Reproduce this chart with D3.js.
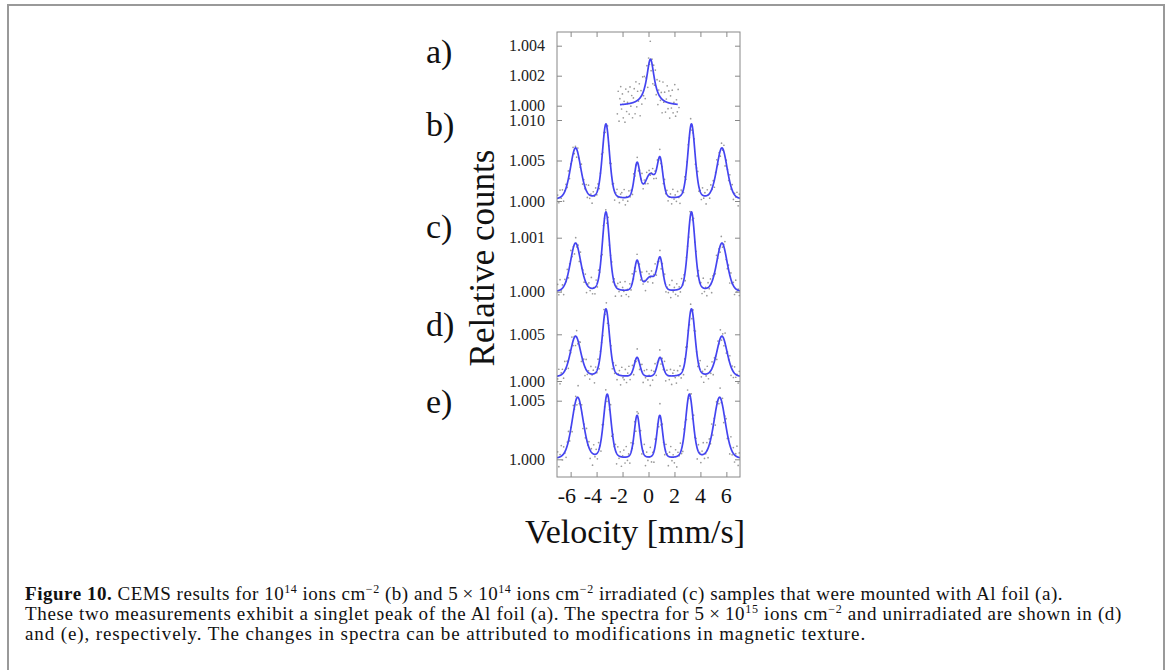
<!DOCTYPE html>
<html>
<head>
<meta charset="utf-8">
<script src="https://cdn.jsdelivr.net/npm/d3@7"></script>
<style>
body { margin: 0; background: #fff; }
svg { display: block; }
</style>
</head>
<body>
<svg id="chart" width="1170" height="670"></svg>
<script>
// ---- data ----
const xTicks = [-6, -4, -2, 0, 2, 4, 6];
const ticksA = [1.000, 1.002, 1.004];
const ticksB = [1.000, 1.005, 1.010];
const ticksC = [1.000, 1.001];
const ticksD = [1.000, 1.005];
const ticksE = [1.000, 1.005];

// pseudo-Voigt fit parameters (line position mm/s, hwhm mm/s, amplitude in relative counts)
const sextetPos  = [-5.62, -3.28, -0.88, 0.89, 3.31, 5.66];
const sextetPosE = [-5.46, -3.18, -0.88, 0.87, 3.15, 5.48];
const hwhm  = [0.48, 0.33, 0.26, 0.26, 0.33, 0.48];
const hwhmE = [0.52, 0.34, 0.26, 0.26, 0.34, 0.52];
const singletPos = 0.15;

const baseA = 1.00000, ampA = [0.0031], hwhmA = [0.36], etaA = 1.0;
const baseB = 1.00008, ampB = [0.0064, 0.0093, 0.0043, 0.0045, 0.0093, 0.0064], singletB = 0.0030;
const baseC = 0.99998, ampC = [0.00091, 0.00148, 0.00056, 0.00058, 0.00148, 0.00091], singletC = 0.00026;
const baseD = 1.00035, ampD = [0.0044, 0.0073, 0.0021, 0.0021, 0.0073, 0.0044];
const baseE = 0.99995, ampE = [0.0053, 0.0055, 0.0037, 0.0037, 0.0055, 0.0053];
const singletW = 0.5, eta = 0.3;

// scatter of measured points: residuals from the fit (a,b,d,e in 1e-4, c in 1e-5)
const resA = [-6,9,-11,4,12,-3,7,-9,2,-12,10,-5,1,8,-7,11,-2,5,-10,3,9,-8,13,-4,6,-1,10,-12,4,-6,11,-3,8,-9,2,7,-11,5,-2,12,-7,3,-10,6,-4,9,-5,7,-8,3,10,-2,4,-9,12,-1,6,-7,2,11,-4,8,-10,5,-3,9,-6,1,13,-8,3,-5,10,-2];
const resB = [4,-6,9,-2,7,-9,1,5,-4,10,-7,3,-1,8,-5,2,-10,6,0,-3,9,-8,4,-2,7,-6,11,-4,2,-9,5,-1,8,-3,6,-7,1,10,-5,3,-8,0,7,-2,-6,9,-4,5,-10,2,8,-1,-7,4,6,-3,10,-9,1,-5,7,-2,3,-8,9,-4,0,6,-7,2,-1,11,-6,4,-3,8,-9,5,-2,1,7,-5,3,-10,6,-1,9,-4,2,-7,8,-3,5,-6,0,4,-8,10,-2,3,-5,7,-1,-9,6,2,-4,8,-6,1,5,-3,9,-7,
    -2,6,-8,3,11,-5,1,-7,9,-3,4,-10,7,0,-6,8,-1,5,-9,2,10,-4,3,-7,6,-2,8,-11,4,1,-5,9,-3,7,-8,2,-1,6,-10,5];
const resC = [12,-8,19,-3,6,-15,9,-1,14,-11,4,17,-6,2,-18,10,-4,7,-13,16,-2,5,-9,13,-16,3,8,-5,20,-10,1,-12,11,-7,15,-3,6,-17,9,-1,4,-14,18,-6,2,12,-9,7,-19,3,10,-4,14,-11,5,-2,16,-8,1,-13,9,-6,17,-3,4,-15,11,-1,8,-10,13,-5,2,-18,15,-7,6,-2,10,-12,3,19,-9,5,-4,12,-16,7,-1,14,-11,2,-6,9,-14,18,-3,5,-8,11,-12,4,-7,15,-2,8,-17,6,1,-10,13,-5,
    -9,14,-3,7,-16,10,-1,5,-12,18,-6,2,-14,9,-4,11,-19,6,1,-8,15,-2,4,-11,13,-7,3,17,-5,-10,8,-15,12,-1,6,-13,16,-4,2,-9];
const resD = [-3,7,-9,2,5,-6,10,-1,4,-8,6,-2,9,-5,1,-10,7,-4,3,8,-7,0,5,-9,11,-3,2,-6,8,-1,4,-10,6,-2,9,-7,3,1,-5,10,-4,7,-8,2,-1,6,-9,4,-3,8,-6,1,5,-10,9,-2,-4,7,-7,3,10,-5,0,6,-8,2,-3,9,-1,-6,4,8,-9,5,-2,7,-4,1,-10,6,-5,3,9,-7,2,-1,8,-6,4,-3,10,-8,5,0,-4,7,-9,3,6,-2,-8,5,-1,9,-5,2,-7,4,8,-3,1,-6,7,-10,
    6,-4,9,-1,-7,3,10,-5,2,-9,5,-2,8,-6,0,-3,7,-10,4,1,-8,6,-2,9,-4,3,-7,11,-5,2,-1,8,-9,4,-6,7,-3,1,-8,5];
const resE = [5,-8,2,9,-4,6,-1,-7,3,8,-5,1,-9,7,-2,4,-6,10,-3,0,6,-8,2,-4,9,-1,5,-7,3,-10,8,-2,4,-5,7,1,-9,6,-3,2,8,-6,0,-4,10,-7,3,-1,5,-9,7,-2,4,-8,1,6,-5,9,-3,2,-7,8,-1,-4,6,-10,3,5,-2,7,-6,1,9,-8,4,-3,0,8,-5,2,-9,6,-1,3,-7,10,-4,5,-2,-6,7,1,-8,4,9,-3,2,-5,6,-9,3,-1,8,-4,-7,5,2,-6,10,-3,1,7,
    -5,8,-2,4,-9,6,1,-7,3,10,-4,-1,7,-8,5,-3,9,-6,2,-10,4,0,-5,8,-2,6,-9,3,7,-4,1,-8,10,-3,5,-6,2,9,-7,4];

const captionLines = [
    [["Figure 10.", "b"], [" CEMS results for 10"], ["14", "s"], [" ions cm"], ["\u22122", "s"], [" (b) and 5\u2009\u00d7\u200910"], ["14", "s"], [" ions cm"], ["\u22122", "s"], [" irradiated (c) samples that were mounted with Al foil (a)."]],
    [["These two measurements exhibit a singlet peak of the Al foil (a). The spectra for 5\u2009\u00d7\u200910"], ["15", "s"], [" ions cm"], ["\u22122", "s"], [" and unirradiated are shown in (d)"]],
    [["and (e), respectively. The changes in spectra can be attributed to modifications in magnetic texture."]]
];
const captionWidths = [1038, 1097, 841];

// ---- layout ----
const frame = {left: 557, right: 740, top: 32, bottom: 477};
const serif = "'Liberation Serif', 'Times New Roman', serif";

const panels = [
    {label: "a)", labelY: 63,  ticks: ticksA, yPx: [105.7, 45.7], base: baseA, eta: etaA, pos: [singletPos], amp: ampA, w: hwhmA, res: resA, unit: 1e-4, curveX: [-2.2, 2.25], dotX: [-2.4, 2.35]},
    {label: "b)", labelY: 136, ticks: ticksB, yPx: [201, 120],    base: baseB, eta: eta, pos: sextetPos.concat([singletPos]), amp: ampB.concat([singletB]), w: hwhm.concat([singletW]), res: resB, unit: 1e-4, curveX: [-7.05, 7.05], dotX: [-7.0, 7.0]},
    {label: "c)", labelY: 238, ticks: ticksC, yPx: [291.7, 237.7], base: baseC, eta: eta, pos: sextetPos.concat([singletPos]), amp: ampC.concat([singletC]), w: hwhm.concat([singletW]), res: resC, unit: 1e-5, curveX: [-7.05, 7.05], dotX: [-7.0, 7.0]},
    {label: "d)", labelY: 336, ticks: ticksD, yPx: [381, 334.3],  base: baseD, eta: eta, pos: sextetPos, amp: ampD, w: hwhm, res: resD, unit: 1e-4, curveX: [-7.05, 7.05], dotX: [-7.0, 7.0]},
    {label: "e)", labelY: 413, ticks: ticksE, yPx: [459.3, 400.7], base: baseE, eta: eta, pos: sextetPosE, amp: ampE, w: hwhmE, res: resE, unit: 1e-4, curveX: [-7.05, 7.05], dotX: [-7.0, 7.0]}
];

const svg = d3.select("#chart");

// page border (top, left, right)
svg.append("path")
    .attr("d", "M8,670 V5 H1164 V670")
    .attr("fill", "none")
    .attr("stroke", "#999")
    .attr("stroke-width", 2);

const x = d3.scaleLinear().domain([-7.05, 7.05]).range([frame.left, frame.right]);

// sum of pseudo-Voigt lines
function fit(p, v) {
    let s = p.base;
    for (let i = 0; i < p.pos.length; i++) {
        const d = (v - p.pos[i]) / p.w[i];
        const lor = 1 / (1 + d * d);
        const gau = Math.exp(-Math.LN2 * d * d);
        s += p.amp[i] * (p.eta * lor + (1 - p.eta) * gau);
    }
    return s;
}

svg.append("clipPath").attr("id", "frameClip")
    .append("rect")
    .attr("x", frame.left).attr("y", frame.top)
    .attr("width", frame.right - frame.left).attr("height", frame.bottom - frame.top);

const plot = svg.append("g").attr("clip-path", "url(#frameClip)");

panels.forEach(p => {
    const y = d3.scaleLinear().domain([p.ticks[0], p.ticks[p.ticks.length - 1]]).range(p.yPx);

    // measured points
    const idx = d3.scaleLinear().domain([0, p.res.length - 1]).range(p.dotX);
    plot.append("g").selectAll("circle")
        .data(p.res)
        .join("circle")
        .attr("cx", (d, i) => x(idx(i)))
        .attr("cy", (d, i) => y(fit(p, idx(i)) + d * p.unit))
        .attr("r", 0.85)
        .attr("fill", "#999");

    // fitted curve
    const vs = d3.range(p.curveX[0], p.curveX[1] + 0.001, 0.01);
    plot.append("path")
        .datum(vs)
        .attr("fill", "none")
        .attr("stroke", "#4444f0")
        .attr("stroke-width", 1.7)
        .attr("d", d3.line().x(v => x(v)).y(v => y(fit(p, v))));

    // left & right axes with inward ticks
    const left = svg.append("g")
        .attr("transform", `translate(${frame.left},0)`)
        .call(d3.axisRight(y).tickValues(p.ticks).tickSize(5).tickFormat(""));
    left.select(".domain").remove();
    const right = svg.append("g")
        .attr("transform", `translate(${frame.right},0)`)
        .call(d3.axisLeft(y).tickValues(p.ticks).tickSize(5).tickFormat(""));
    right.select(".domain").remove();

    svg.append("g").selectAll("text")
        .data(p.ticks)
        .join("text")
        .attr("x", 545)
        .attr("y", d => y(d))
        .attr("dy", "0.35em")
        .attr("text-anchor", "end")
        .attr("font-family", serif)
        .attr("font-size", 16)
        .attr("fill", "#222")
        .text(d => d3.format(".3f")(d));

    svg.append("text")
        .attr("x", 426)
        .attr("y", p.labelY)
        .attr("font-family", serif)
        .attr("font-size", 34)
        .attr("fill", "#111")
        .text(p.label);
});

// top & bottom ticks
const bottomAxis = svg.append("g")
    .attr("transform", `translate(0,${frame.bottom})`)
    .call(d3.axisTop(x).tickValues(xTicks).tickSize(5).tickFormat(""));
bottomAxis.select(".domain").remove();
const topAxis = svg.append("g")
    .attr("transform", `translate(0,${frame.top})`)
    .call(d3.axisBottom(x).tickValues(xTicks).tickSize(5).tickFormat(""));
topAxis.select(".domain").remove();
svg.selectAll(".tick line").attr("stroke", "#888");

// frame
svg.append("rect")
    .attr("x", frame.left).attr("y", frame.top)
    .attr("width", frame.right - frame.left).attr("height", frame.bottom - frame.top)
    .attr("fill", "none")
    .attr("stroke", "#888")
    .attr("stroke-width", 1);

// x tick labels: digit centred on the tick, minus sign hanging left
svg.append("g").selectAll("text")
    .data(xTicks)
    .join("text")
    .attr("x", d => x(d) + 5.5)
    .attr("y", 503)
    .attr("text-anchor", "end")
    .attr("font-family", serif)
    .attr("font-size", 22)
    .attr("fill", "#111")
    .text(d => String(d));

svg.append("text")
    .attr("x", 635)
    .attr("y", 543)
    .attr("text-anchor", "middle")
    .attr("font-family", serif)
    .attr("font-size", 34)
    .attr("fill", "#111")
    .text("Velocity [mm/s]");

svg.append("text")
    .attr("transform", "translate(494,258) rotate(-90)")
    .attr("text-anchor", "middle")
    .attr("font-family", serif)
    .attr("font-size", 35)
    .attr("fill", "#111")
    .text("Relative counts");

// caption: 19px text, letter-spaced so each line runs as wide as in the figure
captionLines.forEach((line, li) => {
    const t = svg.append("text")
        .attr("x", 25)
        .attr("y", 600 + li * 20)
        .attr("font-family", serif)
        .attr("font-size", 19)
        .attr("fill", "#111");
    line.forEach(([str, kind]) => {
        const ts = t.append("tspan").text(str);
        if (kind === "b") ts.attr("font-weight", "bold");
        if (kind === "s") ts.attr("font-size", 12).attr("baseline-shift", "super");
    });
    const w = t.node().getComputedTextLength();
    const n = line.reduce((s, d) => s + d[0].length, 0);
    t.attr("letter-spacing", ((captionWidths[li] - w) / n).toFixed(3));
});
</script>
</body>
</html>
